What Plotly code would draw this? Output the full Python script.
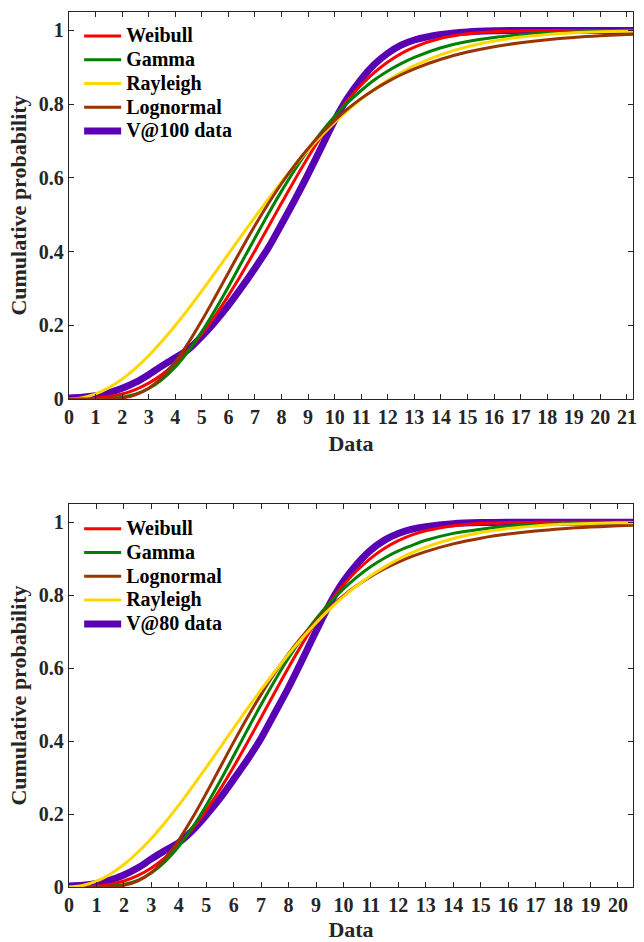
import plotly.graph_objects as go

# ---------------- data ----------------
x_top = [0, 0.5, 1, 1.5, 2, 2.5, 3, 3.5, 4, 4.5, 5, 5.5, 6, 6.5, 7, 7.5, 8, 8.5, 9,
         9.5, 10, 10.5, 11, 11.5, 12, 12.5, 13, 14, 15, 16, 17, 18, 19, 20, 21, 21.23]
weibull_top = [0, 0.0002, 0.0018, 0.0059, 0.0135, 0.0257, 0.0431, 0.0667, 0.0966, 0.1332,
               0.1764, 0.2258, 0.2806, 0.3399, 0.4025, 0.4669, 0.5316, 0.5952, 0.6561, 0.7130,
               0.7651, 0.8115, 0.8519, 0.8861, 0.9144, 0.9372, 0.9550, 0.9786, 0.9909, 0.9965,
               0.9988, 0.9996, 0.9999, 1.0, 1.0, 1.0]
gamma_top = [0, 0, 0.0001, 0.0011, 0.0047, 0.0130, 0.0285, 0.0530, 0.0869, 0.1307,
             0.1827, 0.2414, 0.3047, 0.3709, 0.4370, 0.5020, 0.5640, 0.6220, 0.6750, 0.7240,
             0.7670, 0.8045, 0.8370, 0.8660, 0.8900, 0.9100, 0.9270, 0.9530, 0.9700, 0.9810,
             0.9880, 0.9930, 0.9958, 0.9975, 0.9985, 0.9987]
rayleigh_top = [0, 0.0035, 0.0138, 0.0308, 0.0540, 0.0831, 0.1175, 0.1565, 0.1993, 0.2452,
                0.2934, 0.3430, 0.3935, 0.4439, 0.4937, 0.5421, 0.5889, 0.6334, 0.6753, 0.7145,
                0.7506, 0.7837, 0.8137, 0.8407, 0.8647, 0.8859, 0.9044, 0.9343, 0.9561, 0.9714,
                0.9819, 0.9889, 0.9934, 0.9961, 0.9978, 0.9981]
lognormal_top = [0, 0, 0.00001, 0.0004, 0.0028, 0.0111, 0.0290, 0.0589, 0.1008, 0.1531,
                 0.2127, 0.2769, 0.3427, 0.4079, 0.4708, 0.5299, 0.5847, 0.6347, 0.6798, 0.7202,
                 0.7561, 0.7878, 0.8156, 0.8399, 0.8612, 0.8797, 0.8958, 0.9218, 0.9413, 0.9559,
                 0.9667, 0.9749, 0.9810, 0.9855, 0.9890, 0.9896]
data_top = [0.003, 0.005, 0.009, 0.017, 0.029, 0.045, 0.066, 0.090, 0.112, 0.135,
            0.170, 0.210, 0.254, 0.303, 0.355, 0.410, 0.474, 0.540, 0.610, 0.683,
            0.756, 0.818, 0.868, 0.908, 0.938, 0.960, 0.974, 0.989, 0.996, 0.999,
            1, 1, 1, 1, 1, 1]

x_bot = [0, 0.5, 1, 1.5, 2, 2.5, 3, 3.5, 4, 4.5, 5, 5.5, 6, 6.5, 7, 7.5, 8, 8.5, 9,
         9.5, 10, 10.5, 11, 11.5, 12, 12.5, 13, 14, 15, 16, 17, 18, 19, 20, 20.55]
weibull_bot = [0, 0.0003, 0.0022, 0.0072, 0.0164, 0.0311, 0.0522, 0.0804, 0.1161, 0.1595,
               0.2100, 0.2671, 0.3296, 0.3961, 0.4648, 0.5341, 0.6019, 0.6665, 0.7264, 0.7804,
               0.8278, 0.8683, 0.9017, 0.9286, 0.9495, 0.9653, 0.9769, 0.9906, 0.9967, 0.9990,
               0.9997, 0.9999, 1.0, 1.0, 1.0]
gamma_bot = [0, 0, 0.0002, 0.0018, 0.0070, 0.0184, 0.0387, 0.0695, 0.1113, 0.1633,
             0.2236, 0.2898, 0.3599, 0.4307, 0.5003, 0.5664, 0.6279, 0.6839, 0.7348, 0.7790,
             0.8172, 0.8503, 0.8787, 0.9020, 0.9214, 0.9366, 0.9505, 0.9695, 0.9810, 0.9888,
             0.9935, 0.9962, 0.9979, 0.9988, 0.9991]
lognormal_bot = [0, 0, 0.00002, 0.0006, 0.0044, 0.0160, 0.0399, 0.0778, 0.1287, 0.1896,
                 0.2569, 0.3271, 0.3972, 0.4647, 0.5282, 0.5868, 0.6398, 0.6874, 0.7295, 0.7665,
                 0.7989, 0.8271, 0.8515, 0.8725, 0.8906, 0.9062, 0.9195, 0.9408, 0.9564, 0.9677,
                 0.9761, 0.9822, 0.9867, 0.9901, 0.9915]
rayleigh_bot = [0, 0.0040, 0.0158, 0.0351, 0.0616, 0.0945, 0.1332, 0.1768, 0.2244, 0.2751,
                0.3278, 0.3816, 0.4356, 0.4889, 0.5409, 0.5909, 0.6383, 0.6827, 0.7239, 0.7616,
                0.7958, 0.8265, 0.8537, 0.8777, 0.8985, 0.9165, 0.9318, 0.9556, 0.9720, 0.9829,
                0.9899, 0.9942, 0.9968, 0.9983, 0.9988]
data_bot = [0.003, 0.005, 0.010, 0.019, 0.033, 0.052, 0.077, 0.100, 0.122, 0.155,
            0.197, 0.243, 0.295, 0.349, 0.408, 0.477, 0.547, 0.623, 0.701, 0.776,
            0.838, 0.886, 0.924, 0.951, 0.969, 0.981, 0.988, 0.996, 0.999, 1,
            1, 1, 1, 1, 1]

x_ticks_top = list(range(0, 22))
x_ticks_bot = list(range(0, 21))
y_ticks = [0, 0.2, 0.4, 0.6, 0.8, 1]
y_tick_labels = ["0", "0.2", "0.4", "0.6", "0.8", "1"]

# ---------------- styling ----------------
FONT = "Liberation Serif"
AX = "#262626"
COL = {"Weibull": "#FF0000", "Gamma": "#008000", "Rayleigh": "#FFD700",
       "Lognormal": "#993300", "data": "#5A00B4"}


def lbl(s):
    return "<span style='font-size:20px'>%s</span>" % s


fig = go.Figure()

# top panel: data curve first (drawn underneath)
fig.add_trace(go.Scatter(x=x_top, y=data_top, name=lbl("V@100 data"), mode="lines",
                         line=dict(color=COL["data"], width=7, shape="spline", smoothing=0.8),
                         legend="legend", legendrank=5, xaxis="x", yaxis="y"))
for nm, ys, rk in [("Weibull", weibull_top, 1), ("Gamma", gamma_top, 2),
                   ("Rayleigh", rayleigh_top, 3), ("Lognormal", lognormal_top, 4)]:
    fig.add_trace(go.Scatter(x=x_top, y=ys, name=lbl(nm), mode="lines",
                             line=dict(color=COL[nm], width=3, shape="spline"),
                             legend="legend", legendrank=rk, xaxis="x", yaxis="y"))

# bottom panel
fig.add_trace(go.Scatter(x=x_bot, y=data_bot, name=lbl("V@80 data"), mode="lines",
                         line=dict(color=COL["data"], width=7, shape="spline", smoothing=0.8),
                         legend="legend2", legendrank=5, xaxis="x2", yaxis="y2"))
for nm, ys, rk in [("Weibull", weibull_bot, 1), ("Gamma", gamma_bot, 2),
                   ("Lognormal", lognormal_bot, 3), ("Rayleigh", rayleigh_bot, 4)]:
    fig.add_trace(go.Scatter(x=x_bot, y=ys, name=lbl(nm), mode="lines",
                             line=dict(color=COL[nm], width=3, shape="spline"),
                             legend="legend2", legendrank=rk, xaxis="x2", yaxis="y2"))


def axis(**kw):
    d = dict(showline=True, linecolor=AX, linewidth=1.3, mirror="ticks",
             ticks="inside", ticklen=5, tickwidth=1, tickcolor=AX,
             showgrid=False, zeroline=False, automargin=False,
             tickfont=dict(family=FONT, size=20, color=AX, weight="bold"))
    d.update(kw)
    return d


title_font = dict(family=FONT, size=22, color=AX, weight="bold")

legend_common = dict(font=dict(family=FONT, size=16, color="#000000", weight="bold"),
                     bgcolor="rgba(0,0,0,0)", borderwidth=0, xanchor="left",
                     yanchor="top", itemwidth=37, tracegroupgap=0,
                     itemclick=False, itemdoubleclick=False)

fig.update_layout(
    width=644, height=942,
    margin=dict(l=69, r=11, t=12, b=55),
    paper_bgcolor="white", plot_bgcolor="white",
    font=dict(family=FONT),
    showlegend=True,
    xaxis=axis(domain=[0, 1], range=[0, 21.23], tickvals=x_ticks_top,
               ticktext=[str(v) for v in x_ticks_top], anchor="y",
               title=dict(text="Data", font=title_font, standoff=8)),
    yaxis=axis(domain=[0.5577, 1], range=[0, 1.05], tickvals=y_ticks,
               ticktext=y_tick_labels, anchor="x",
               title=dict(text="Cumulative probability", font=title_font, standoff=6)),
    xaxis2=axis(domain=[0, 1], range=[0, 20.55], tickvals=x_ticks_bot,
                ticktext=[str(v) for v in x_ticks_bot], anchor="y2",
                title=dict(text="Data", font=title_font, standoff=9)),
    yaxis2=axis(domain=[0, 0.4377], range=[0, 1.05], tickvals=y_ticks,
                ticktext=y_tick_labels, anchor="x2",
                title=dict(text="Cumulative probability", font=title_font, standoff=6)),
    legend=dict(x=0.018, y=0.992, **legend_common),
    legend2=dict(x=0.018, y=0.4288, **legend_common),
)

fig.write_html("out.html")
